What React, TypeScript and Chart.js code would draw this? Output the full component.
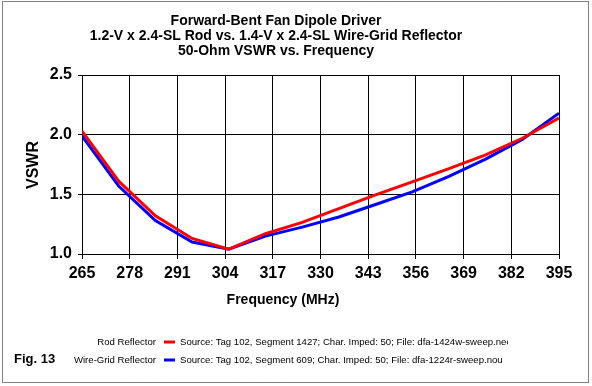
import React, { useEffect, useRef } from 'react';
import { Chart, registerables } from 'chart.js';

Chart.register(...registerables);

const frequencies = [265, 275, 285, 295, 305, 315, 325, 335, 345, 355, 365, 375, 385, 395];
const rodVswr = [2.03, 1.61, 1.32, 1.13, 1.04, 1.17, 1.265, 1.38, 1.495, 1.605, 1.715, 1.83, 1.97, 2.14];
const wireVswr = [1.99, 1.57, 1.28, 1.10, 1.04, 1.15, 1.225, 1.31, 1.415, 1.52, 1.65, 1.795, 1.96, 2.18];

const titleLines = [
  'Forward-Bent Fan Dipole Driver',
  '1.2-V x 2.4-SL Rod vs. 1.4-V x 2.4-SL Wire-Grid Reflector',
  '50-Ohm VSWR vs. Frequency',
];
const xAxisTitle = 'Frequency (MHz)';
const yAxisTitle = 'VSWR';
const seriesNames = ['Rod Reflector', 'Wire-Grid Reflector'];
const seriesSources = [
  'Source: Tag 102, Segment 1427; Char. Imped: 50; File: dfa-1424w-sweep.nec',
  'Source: Tag 102, Segment 609; Char. Imped: 50; File: dfa-1224r-sweep.nou',
];
const seriesColors = ['#ff0000', '#0000ff'];
const figLabel = 'Fig. 13';

const FONT = '"Liberation Sans", Arial, sans-serif';

const decorPlugin = {
  id: 'decor',
  afterDraw(chart: any) {
    const ctx = chart.ctx as CanvasRenderingContext2D;
    ctx.save();
    ctx.fillStyle = '#000';
    // titles
    ctx.font = `bold 14px ${FONT}`;
    ctx.textAlign = 'center';
    ctx.textBaseline = 'middle';
    titleLines.forEach((t, i) => ctx.fillText(t, 276, 21 + i * 15));
    // x axis title
    ctx.fillText(xAxisTitle, 283, 300);
    // y axis title
    ctx.save();
    ctx.font = `bold 16px ${FONT}`;
    ctx.translate(34, 165);
    ctx.rotate(-Math.PI / 2);
    ctx.fillText(yAxisTitle, 0, 0);
    ctx.restore();
    // legend
    const rows = [342, 360];
    ctx.font = `9.6px ${FONT}`;
    rows.forEach((y, i) => {
      ctx.textAlign = 'right';
      ctx.fillStyle = '#000';
      ctx.fillText(seriesNames[i], 156, y);
      ctx.strokeStyle = seriesColors[i];
      ctx.lineWidth = 3;
      ctx.beginPath();
      ctx.moveTo(164, y);
      ctx.lineTo(175, y);
      ctx.stroke();
      ctx.save();
      ctx.beginPath();
      ctx.rect(176, y - 10, 332, 20);
      ctx.clip();
      ctx.textAlign = 'left';
      ctx.fillStyle = '#000';
      ctx.fillText(seriesSources[i], 180, y);
      ctx.restore();
    });
    // fig label
    ctx.font = `bold 13px ${FONT}`;
    ctx.textAlign = 'left';
    ctx.fillText(figLabel, 14, 359);
    // dotted border
    ctx.strokeStyle = '#000';
    ctx.lineWidth = 1;
    ctx.setLineDash([1, 1]);
    ctx.strokeRect(2.5, 1.5, 586, 381);
    ctx.restore();
  },
};

export default function App() {
  const ref = useRef<HTMLCanvasElement | null>(null);
  useEffect(() => {
    document.body.style.margin = '0';
    const canvas = ref.current;
    if (!canvas) return;
    const chart = new Chart(canvas, {
      type: 'line',
      data: {
        datasets: [
          {
            label: seriesNames[0],
            data: frequencies.map((f, i) => ({ x: f, y: rodVswr[i] })),
            borderColor: seriesColors[0],
            borderWidth: 3,
            pointRadius: 0,
            tension: 0,
            fill: false,
          },
          {
            label: seriesNames[1],
            data: frequencies.map((f, i) => ({ x: f, y: wireVswr[i] })),
            borderColor: seriesColors[1],
            borderWidth: 3,
            pointRadius: 0,
            tension: 0,
            fill: false,
          },
        ],
      },
      options: {
        responsive: false,
        animation: false,
        devicePixelRatio: 1,
        layout: { padding: { left: 0, top: 75, right: 33, bottom: 92 } },
        plugins: {
          legend: { display: false },
          title: { display: false },
          tooltip: { enabled: false },
        },
        scales: {
          x: {
            type: 'linear',
            min: 265,
            max: 395,
            afterFit: (s: any) => { s.height = 40; },
            ticks: {
              stepSize: 13,
              color: '#000',
              padding: 5,
              maxRotation: 0,
              font: { family: FONT, size: 16, weight: 'bold' },
            },
            grid: { color: '#000', lineWidth: 1, tickLength: 5, drawTicks: true },
            border: { display: true, color: '#000', width: 1 },
          },
          y: {
            type: 'linear',
            min: 1.0,
            max: 2.5,
            afterFit: (s: any) => { s.width = 82; },
            ticks: {
              stepSize: 0.5,
              color: '#000',
              padding: 6,
              callback: (v: any) => Number(v).toFixed(1),
              font: { family: FONT, size: 16, weight: 'bold' },
            },
            grid: { color: '#000', lineWidth: 1, tickLength: 4, drawTicks: true },
            border: { display: true, color: '#000', width: 1 },
          },
        },
      },
      plugins: [decorPlugin],
    } as any);
    return () => chart.destroy();
  }, []);
  return (
    <div style={{ width: 592, height: 386, background: '#fff' }}>
      <canvas ref={ref} width={592} height={386} style={{ display: 'block' }} />
    </div>
  );
}
